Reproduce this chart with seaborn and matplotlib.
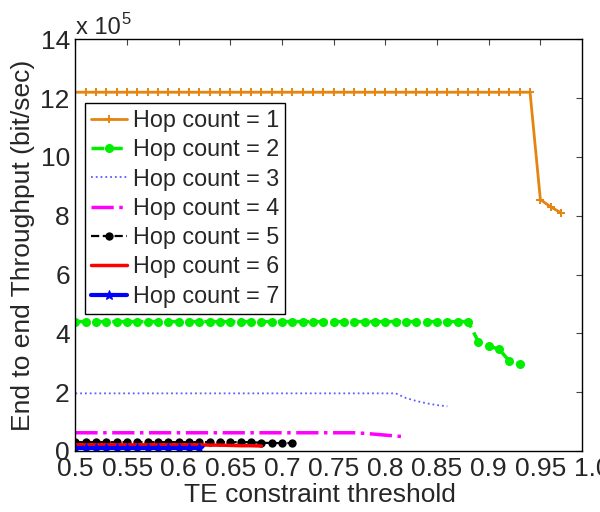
import matplotlib
matplotlib.use("Agg")
import matplotlib.pyplot as plt
import seaborn as sns
import pandas as pd

# TE constraint thresholds (x values)
thresholds = [0.50, 0.51, 0.52, 0.53, 0.54, 0.55, 0.56, 0.57, 0.58, 0.59,
              0.60, 0.61, 0.62, 0.63, 0.64, 0.65, 0.66, 0.67, 0.68, 0.69,
              0.70, 0.71, 0.72, 0.73, 0.74, 0.75, 0.76, 0.77, 0.78, 0.79,
              0.80, 0.81, 0.82, 0.83, 0.84, 0.85, 0.86, 0.87, 0.88, 0.89,
              0.90, 0.91, 0.92, 0.93, 0.94, 0.95, 0.96, 0.97]

# Throughput values in units of 1e5 bit/sec
hop1 = [12.2, 12.2, 12.2, 12.2, 12.2, 12.2, 12.2, 12.2, 12.2, 12.2,
        12.2, 12.2, 12.2, 12.2, 12.2, 12.2, 12.2, 12.2, 12.2, 12.2,
        12.2, 12.2, 12.2, 12.2, 12.2, 12.2, 12.2, 12.2, 12.2, 12.2,
        12.2, 12.2, 12.2, 12.2, 12.2, 12.2, 12.2, 12.2, 12.2, 12.2,
        12.2, 12.2, 12.2, 12.2, 12.2, 8.55, 8.30, 8.10]
hop2 = [4.40, 4.40, 4.40, 4.40, 4.40, 4.40, 4.40, 4.40, 4.40, 4.40,
        4.40, 4.40, 4.40, 4.40, 4.40, 4.40, 4.40, 4.40, 4.40, 4.40,
        4.40, 4.40, 4.40, 4.40, 4.40, 4.40, 4.40, 4.40, 4.40, 4.40,
        4.40, 4.40, 4.40, 4.40, 4.40, 4.40, 4.40, 4.40, 4.40, 3.72,
        3.57, 3.46, 3.06, 2.95]
hop3 = [1.96, 1.96, 1.96, 1.96, 1.96, 1.96, 1.96, 1.96, 1.96, 1.96,
        1.96, 1.96, 1.96, 1.96, 1.96, 1.96, 1.96, 1.96, 1.96, 1.96,
        1.96, 1.96, 1.96, 1.96, 1.96, 1.96, 1.96, 1.96, 1.96, 1.96,
        1.96, 1.96, 1.80, 1.70, 1.62, 1.56, 1.52]
hop4 = [0.62, 0.62, 0.62, 0.62, 0.62, 0.62, 0.62, 0.62, 0.62, 0.62,
        0.62, 0.62, 0.62, 0.62, 0.62, 0.62, 0.62, 0.62, 0.62, 0.62,
        0.62, 0.62, 0.62, 0.62, 0.62, 0.62, 0.62, 0.62, 0.60, 0.57,
        0.54, 0.51, 0.48]
hop5 = [0.30, 0.30, 0.30, 0.30, 0.30, 0.30, 0.30, 0.30, 0.30, 0.30,
        0.30, 0.30, 0.30, 0.30, 0.30, 0.30, 0.30, 0.30, 0.28, 0.27,
        0.27, 0.27]
hop6 = [0.21, 0.21, 0.21, 0.21, 0.21, 0.21, 0.21, 0.21, 0.21, 0.21,
        0.21, 0.21, 0.21, 0.20, 0.20, 0.19, 0.18, 0.18, 0.17]
hop7 = [0.11, 0.11, 0.11, 0.11, 0.11, 0.11, 0.11, 0.11, 0.11, 0.11,
        0.11, 0.11, 0.11]

labels = ["Hop count = 1", "Hop count = 2", "Hop count = 3", "Hop count = 4",
          "Hop count = 5", "Hop count = 6", "Hop count = 7"]
xtick_values = [0.5, 0.55, 0.6, 0.65, 0.7, 0.75, 0.8, 0.85, 0.9, 0.95]
xtick_labels = ["0.5", "0.55", "0.6", "0.65", "0.7", "0.75", "0.8", "0.85", "0.9", "0.95"]
ytick_values = [0, 2, 4, 6, 8, 10, 12, 14]

sns.set_style("white")
plt.rcParams['font.family'] = ['Liberation Sans', 'DejaVu Sans']

FS = 19

fig = plt.figure(figsize=(6.0, 5.12), dpi=100)
ax = fig.add_axes([75.4 / 600, 1 - 451 / 512, (581.7 - 75.4) / 600, (451 - 39.3) / 512])

series = [hop1, hop2, hop3, hop4, hop5, hop6, hop7]
styles = [
    dict(color="#E5850F", linestyle="-", linewidth=2.0, marker="+", markersize=6,
         markeredgewidth=1.4, markeredgecolor="#E5850F"),
    dict(color="#00EE00", linestyle="--", linewidth=2.5, marker="o", markersize=6.5,
         markeredgewidth=0, markerfacecolor="#00EE00"),
    dict(color="#5C5CFF", linestyle=":", linewidth=1.3, marker=None),
    dict(color="#FF00FF", linestyle="-.", linewidth=2.5, marker=None),
    dict(color="black", linestyle="--", linewidth=1.6, marker="o", markersize=6,
         markeredgewidth=0, markerfacecolor="black"),
    dict(color="#FF0000", linestyle="-", linewidth=2.5, marker=None),
    dict(color="#0000FF", linestyle="-", linewidth=3.0, marker="*", markersize=7,
         markeredgewidth=0.8, markeredgecolor="#0000FF", markerfacecolor="#0000FF"),
]

for vals, lab, st in zip(series, labels, styles):
    df = pd.DataFrame({"x": thresholds[:len(vals)], "y": vals})
    sns.lineplot(data=df, x="x", y="y", ax=ax, label=lab, **st)

ax.set_xlim(0.5, 0.99)
ax.set_ylim(0, 14)
ax.set_xticks(xtick_values)
ax.set_xticklabels(xtick_labels)
ax.set_yticks(ytick_values)
ax.set_yticklabels([str(v) for v in ytick_values])
ax.annotate("1.0", xy=(1.0, 0), xycoords=("data", "axes fraction"), xytext=(0, -6),
            textcoords="offset pixels", ha="center", va="top", fontsize=FS,
            annotation_clip=False)

ax.tick_params(axis="both", which="both", direction="in", length=4, width=0.8,
               top=True, right=True, labelsize=FS, pad=4, color="#444444")
for sp in ax.spines.values():
    sp.set_color("black")
    sp.set_linewidth(1.0)

ax.set_xlabel("TE constraint threshold", fontsize=FS, labelpad=0)
ax.set_ylabel("End to end Throughput (bit/sec)", fontsize=FS, labelpad=4)
ax.xaxis.set_label_coords(0.483, -0.077)

fig.text(76 / 600, 1 - 34 / 512, "x 10", fontsize=17, va="baseline", ha="left")
fig.text(121 / 600, 1 - 24 / 512, "5", fontsize=12, va="baseline", ha="left")

leg = ax.legend(loc="upper left", bbox_to_anchor=(0.019, 0.845), fontsize=16.8,
                frameon=True, fancybox=False, edgecolor="black", framealpha=1,
                handlelength=1.55, handletextpad=0.25, labelspacing=0.27,
                borderpad=0.25, borderaxespad=0)
leg.get_frame().set_linewidth(1.0)

fig.savefig("out.png", dpi=100)
